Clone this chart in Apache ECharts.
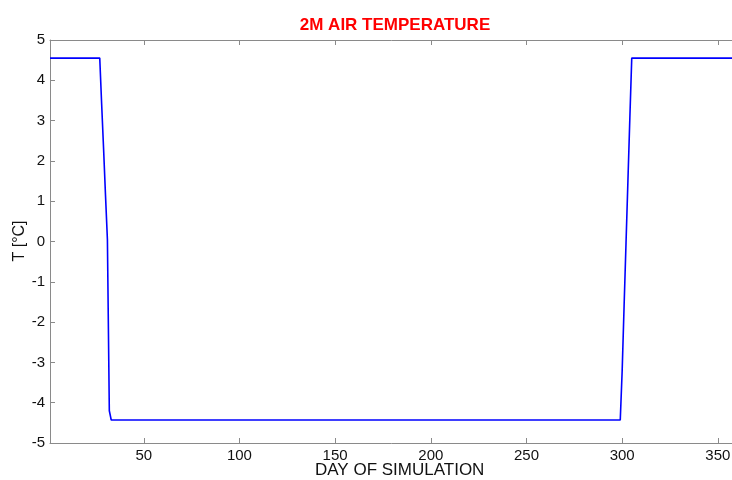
<!DOCTYPE html>
<html>
<head>
<meta charset="utf-8">
<script src="https://cdn.jsdelivr.net/npm/echarts@6/dist/echarts.min.js"></script>
<style>html,body{margin:0;padding:0;background:#fff}#c{width:732px;height:480px}</style>
</head>
<body>
<div id="c"></div>
<script>
// Breakpoints of the 2 m air temperature curve (day, °C)
const days  = [1,    27,   28,   29,   30,   31,   32,    33,    299,   300,   301,   302,   303,  304,  305,  360];
const temps = [4.55, 4.55, 3.40, 2.30, 1.15, 0.05, -4.20, -4.43, -4.43, -3.20, -1.60, -0.05, 1.50, 3.05, 4.55, 4.55];
const xTicks = [50, 100, 150, 200, 250, 300, 350];
const yTicks = [-5, -4, -3, -2, -1, 0, 1, 2, 3, 4, 5];

const series = days.map((d, i) => [d, temps[i]]);
const font = 'Liberation Sans, Arial, sans-serif';
const axisColor = '#8a8a8a';

const chart = echarts.init(document.getElementById('c'), null, {renderer: 'canvas'});
chart.setOption({
  animation: false,
  backgroundColor: '#fff',
  title: {
    text: '2M AIR TEMPERATURE',
    left: 390, top: 12, textAlign: 'center',
    textStyle: {color: '#ff0000', fontSize: 17, fontWeight: 'bold', fontFamily: font}
  },
  grid: {left: 50, top: 40, right: -5, bottom: 37, containLabel: false, outerBoundsMode: 'none'},
  xAxis: [{
    type: 'value', min: 1, max: 360, position: 'bottom',
    axisLine: {show: true, onZero: false, lineStyle: {color: axisColor, width: 1}},
    axisTick: {show: true, inside: true, length: 5, customValues: xTicks, lineStyle: {color: axisColor}},
    axisLabel: {show: true, customValues: xTicks, color: '#111', fontSize: 15, fontFamily: font, margin: 5},
    splitLine: {show: false}
  }, {
    type: 'value', min: 1, max: 360, position: 'top',
    axisLine: {show: true, onZero: false, lineStyle: {color: axisColor, width: 1}},
    axisTick: {show: true, inside: true, length: 5, customValues: xTicks, lineStyle: {color: axisColor}},
    axisLabel: {show: false},
    splitLine: {show: false}
  }],
  yAxis: [{
    type: 'value', min: -5, max: 5, interval: 1,
    axisLine: {show: true, onZero: false, lineStyle: {color: axisColor, width: 1}},
    axisTick: {show: true, inside: true, length: 5, lineStyle: {color: axisColor}},
    axisLabel: {show: true, color: '#111', fontSize: 15, fontFamily: font, margin: 5},
    splitLine: {show: false}
  }],
  graphic: [
    {type: 'text', left: 315, top: 462, style: {text: 'DAY OF SIMULATION', fill: '#111', fontSize: 17, fontFamily: font}},
    {type: 'text', x: 20, y: 241, rotation: Math.PI / 2,
     style: {text: 'T [°C]', fill: '#111', fontSize: 16, fontFamily: font, align: 'center', verticalAlign: 'middle'}}
  ],
  series: [{
    type: 'line', data: series, showSymbol: false, symbol: 'none',
    lineStyle: {color: '#0000ff', width: 1.6}, clip: true
  }]
});
</script>
</body>
</html>
